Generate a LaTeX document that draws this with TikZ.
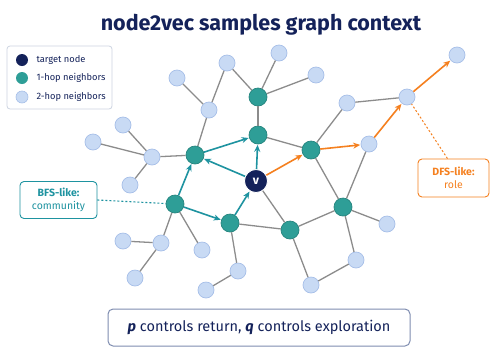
\documentclass[tikz,border=0pt]{standalone}
\usepackage{fontspec}
\setmainfont{Fira Sans}
\setsansfont{Fira Sans}
\usetikzlibrary{arrows.meta}
\definecolor{navy}{HTML}{14225A}
\definecolor{tealf}{HTML}{2E9E97}
\definecolor{teald}{HTML}{26857F}
\definecolor{teala}{HTML}{1E93A0}
\definecolor{lbf}{HTML}{C8DAF4}
\definecolor{lbd}{HTML}{A6BFE8}
\definecolor{orng}{HTML}{F5801F}
\definecolor{edgeg}{HTML}{8C8C8C}
\definecolor{boxd}{HTML}{7F8DB0}
\definecolor{legd}{HTML}{CDD4E2}
\tikzset{
  hoptwo/.style={circle, fill=lbf, draw=lbd, line width=0.7pt, minimum size=16pt, inner sep=0pt},
  hopone/.style={circle, fill=tealf, draw=teald, line width=0.7pt, minimum size=18pt, inner sep=0pt},
  tgt/.style={circle, fill=navy, draw=white, line width=0.8pt, minimum size=23pt, inner sep=0pt, text=white, font=\fontsize{12}{13}\selectfont\bfseries},
  gedge/.style={draw=edgeg, line width=1.3pt},
  tarr/.style={draw=teala, line width=1.6pt, -{Stealth[length=7pt,width=6pt]}, shorten >=0.5pt},
  oarr/.style={draw=orng, line width=1.6pt, -{Stealth[length=7pt,width=6pt]}, shorten >=0.5pt},
  legdot/.style={circle, minimum size=12pt, inner sep=0pt},
  legtxt/.style={anchor=west, text=navy, font=\fontsize{9.3}{11}\selectfont},
  callout/.style={rectangle, rounded corners=4pt, line width=0.9pt, fill=white, align=center, font=\fontsize{10.5}{12.5}\selectfont, inner sep=0pt}
}
\begin{document}
\begin{tikzpicture}[x=1pt,y=-1pt]
\useasboundingbox (0,0) rectangle (490,349);
\fill[white] (0,0) rectangle (490,349);
% title
\node[text=navy, font=\fontsize{21.5}{23}\selectfont\bfseries] (title) at (261,25) {node2vec samples graph context};
% legend
\node[draw=legd, line width=0.8pt, rounded corners=3pt, minimum width=105pt, minimum height=63pt, inner sep=0pt] (legend) at (59.5,77.5) {};
\node[legdot, fill=navy] (l1) at (22,60) {};
\node[legdot, fill=tealf] (l2) at (22,78) {};
\node[legdot, fill=lbf, draw=lbd, line width=0.6pt] (l3) at (22,97) {};
\node[legtxt] (lt1) at (33,60) {target node};
\node[legtxt] (lt2) at (33,78) {1-hop neighbors};
\node[legtxt] (lt3) at (33,97) {2-hop neighbors};
% nodes
\node[hopone] (a1) at (195,155) {};
\node[hopone] (a2) at (258,135) {};
\node[hopone] (a3) at (258,97) {};
\node[hopone] (a4) at (311,150) {};
\node[hopone] (a5) at (175,204) {};
\node[hopone] (a6) at (230,223) {};
\node[hopone] (a7) at (290,230) {};
\node[hopone] (a8) at (343,207) {};
\node[hoptwo] (b1) at (227,63) {};
\node[hoptwo] (b2) at (177,78) {};
\node[hoptwo] (b3) at (209,110) {};
\node[hoptwo] (b4) at (123,125) {};
\node[hoptwo] (b5) at (93,142) {};
\node[hoptwo] (b6) at (152,157) {};
\node[hoptwo] (b7) at (130,185) {};
\node[hoptwo] (b8) at (279,53) {};
\node[hoptwo] (b9) at (316,75) {};
\node[hoptwo] (b10) at (347,103) {};
\node[hoptwo] (b11) at (407,97) {};
\node[hoptwo] (b12) at (457,55) {};
\node[hoptwo] (b13) at (369,144) {};
\node[hoptwo] (b14) at (123,241) {};
\node[hoptwo] (b15) at (161,243) {};
\node[hoptwo] (b16) at (202,250) {};
\node[hoptwo] (b17) at (135,278) {};
\node[hoptwo] (b18) at (238,271) {};
\node[hoptwo] (b19) at (206,290) {};
\node[hoptwo] (b20) at (387,224) {};
\node[hoptwo] (b21) at (356,260) {};
\node[hoptwo] (b22) at (311,285) {};
\node[tgt] (v) at (256,181) {v};
% gray edges
\foreach \s/\t in {b1/b3,b2/b3,b3/a1,b1/a3,a1/b6,b6/b4,b6/b5,b6/b7,b8/a3,a3/b9,a3/a2,a2/a4,a4/b10,b10/b11,a4/a8,b13/a8,v/a7,a6/a7,a7/a8,a8/b20,a8/b21,b21/b22,a7/b22,a5/b15,a5/b16,b15/b14,b15/b17,a6/b18,b18/b19}
  \draw[gedge] (\s) -- (\t);
% teal arrows
\draw[tarr] (a5) -- (a1);
\draw[tarr] (a5) -- (a6);
\draw[tarr] (a6) -- (v);
\draw[tarr] (v) -- (a1);
\draw[tarr] (v) -- (a2);
\draw[tarr] (a1) -- (a2);
% orange arrows
\draw[oarr] (v) -- (a4);
\draw[oarr] (a4) -- (b13);
\draw[oarr] (b13) -- (b11);
\draw[oarr] (b11) -- (b12);
% callouts
\node[callout, draw=teala, text=teala, minimum width=77pt, minimum height=37pt] (bfs) at (58.5,200) {\textbf{BFS-like:}\\community};
\node[callout, draw=orng, text=orng, minimum width=71pt, minimum height=38pt] (dfs) at (453.5,178) {\textbf{DFS-like:}\\role};
\draw[teala, line width=1.1pt, dash pattern=on 2pt off 2pt] (bfs.east) -- (a5);
\coordinate (dfsn) at ([xshift=-6pt]dfs.north);
\draw[orng, line width=1pt, dash pattern=on 2pt off 2pt] (dfsn) -- (b11);
% bottom box
\node[draw=boxd, line width=1pt, rounded corners=5pt, fill=white, minimum width=302pt, minimum height=37pt, inner sep=0pt, text=navy, font=\fontsize{14.5}{16}\selectfont] (note) at (259,327.5) {\textbf{\textit{p}} controls return, \textbf{\textit{q}} controls exploration};
\end{tikzpicture}
\end{document}
